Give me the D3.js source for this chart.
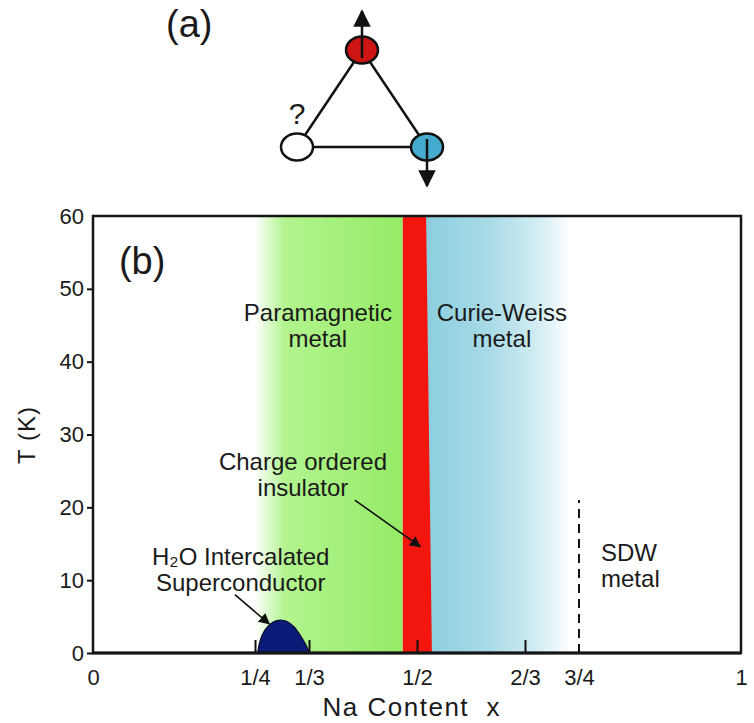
<!DOCTYPE html>
<html>
<head>
<meta charset="utf-8">
<script src="https://cdn.jsdelivr.net/npm/d3@7"></script>
<style>
body { margin: 0; background: #fff; }
text { font-family: "Liberation Sans", Arial, sans-serif; fill: #1a1a1a; }
</style>
</head>
<body>
<script>
// axis ticks
var xTicks = [0, 1/4, 1/3, 1/2, 2/3, 3/4, 1];
var xTickLabels = ["0", "1/4", "1/3", "1/2", "2/3", "3/4", "1"];
var yTicks = [0, 10, 20, 30, 40, 50, 60];

// H2O intercalated superconducting dome
var domeX = [0.254, 0.258, 0.265, 0.274, 0.284, 0.292, 0.30, 0.31, 0.32, 0.328, 0.334];
var domeT = [0, 1.7, 3.1, 4.0, 4.45, 4.5, 4.3, 3.6, 2.4, 1.2, 0];

// charge ordered insulator band, edges at T = 0 and T = 60
var coT = [0, 60];
var coLeft = [0.478, 0.478];
var coRight = [0.523, 0.514];

// shaded metal regions
var paraRange = [0.25, 0.478];
var cwRange = [0.512, 0.737];

// SDW boundary (dashed)
var sdwX = [0.75, 0.75];
var sdwT = [0, 21];

// text labels: x, T of first baseline
var labels = [
  {lines: ["Paramagnetic", "metal"], x: 0.347, T: 45.6, anchor: "middle"},
  {lines: ["Curie-Weiss", "metal"], x: 0.631, T: 45.6, anchor: "middle"},
  {lines: ["Charge ordered", "insulator"], x: 0.324, T: 25.1, anchor: "middle"},
  {lines: ["H\u2082O Intercalated", "Superconductor"], x: 0.228, T: 12.1, anchor: "middle"},
  {lines: ["SDW", "metal"], x: 0.784, T: 12.6, anchor: "start"}
];
var arrows = [
  {x1: 0.404, T1: 21.0, x2: 0.505, T2: 14.6},
  {x1: 0.219, T1: 8.0, x2: 0.272, T2: 4.0}
];

var width = 754, height = 723;
var margin = {top: 216, right: 13, bottom: 70, left: 93};
var w = width - margin.left - margin.right,
    h = height - margin.top - margin.bottom;

var svg = d3.select("body").append("svg")
    .attr("width", width)
    .attr("height", height);

var defs = svg.append("defs");
defs.append("marker")
    .attr("id", "head")
    .attr("viewBox", "0 0 10 10")
    .attr("refX", 9).attr("refY", 5)
    .attr("markerWidth", 7).attr("markerHeight", 7)
    .attr("markerUnits", "strokeWidth")
    .attr("orient", "auto")
  .append("path")
    .attr("d", "M0,0L10,5L0,10z")
    .attr("fill", "#111");

var x = d3.scaleLinear().domain([0, 1]).range([0, w]);
var y = d3.scaleLinear().domain([0, 60]).range([h, 0]);

// gradients live in the plot group's user space
var gPara = defs.append("linearGradient").attr("id", "para")
    .attr("gradientUnits", "userSpaceOnUse")
    .attr("x1", x(paraRange[0])).attr("x2", x(paraRange[1]))
    .attr("y1", 0).attr("y2", 0);
gPara.append("stop").attr("offset", 0).attr("stop-color", "#ffffff");
gPara.append("stop").attr("offset", 0.2).attr("stop-color", "#b2f48f");
gPara.append("stop").attr("offset", 1).attr("stop-color", "#95eb66");

var gCW = defs.append("linearGradient").attr("id", "cw")
    .attr("gradientUnits", "userSpaceOnUse")
    .attr("x1", x(cwRange[0])).attr("x2", x(cwRange[1]))
    .attr("y1", 0).attr("y2", 0);
gCW.append("stop").attr("offset", 0).attr("stop-color", "#8bcede");
gCW.append("stop").attr("offset", 0.45).attr("stop-color", "#a9dbe7");
gCW.append("stop").attr("offset", 0.8).attr("stop-color", "#d6eef4");
gCW.append("stop").attr("offset", 1).attr("stop-color", "#ffffff");

var g = svg.append("g")
    .attr("transform", "translate(" + margin.left + "," + margin.top + ")");

// shaded regions
g.append("rect")
    .attr("x", x(paraRange[0])).attr("y", y(60))
    .attr("width", x(paraRange[1]) - x(paraRange[0]))
    .attr("height", y(0) - y(60))
    .attr("fill", "url(#para)");
g.append("rect")
    .attr("x", x(cwRange[0])).attr("y", y(60))
    .attr("width", x(cwRange[1]) - x(cwRange[0]))
    .attr("height", y(0) - y(60))
    .attr("fill", "url(#cw)");

// charge ordered band
var band = coT.map(function(t, i) { return [coLeft[i], coRight[i], t]; });
g.append("path")
    .datum(band)
    .attr("fill", "#f3160f")
    .attr("d", d3.area()
        .y(function(d) { return y(d[2]); })
        .x0(function(d) { return x(d[0]); })
        .x1(function(d) { return x(d[1]); }));

// superconducting dome
var dome = domeX.map(function(d, i) { return [d, domeT[i]]; });
g.append("path")
    .datum(dome)
    .attr("fill", "#0d1b78")
    .attr("stroke", "#050a30")
    .attr("stroke-width", 1.2)
    .attr("d", d3.line().curve(d3.curveCatmullRom)
        .x(function(d) { return x(d[0]); })
        .y(function(d) { return y(d[1]); }));

// SDW dashed line
g.append("line")
    .attr("x1", x(sdwX[0])).attr("x2", x(sdwX[1]))
    .attr("y1", y(sdwT[0])).attr("y2", y(sdwT[1]))
    .attr("stroke", "#111").attr("stroke-width", 2)
    .attr("stroke-dasharray", "9,6");

// x axis, inward ticks
var xAxis = g.append("g")
    .attr("transform", "translate(0," + h + ")")
    .call(d3.axisBottom(x)
        .tickValues(xTicks)
        .tickSize(0)
        .tickPadding(16)
        .tickFormat(function(d, i) { return xTickLabels[i]; }));
xAxis.select(".domain").remove();
xAxis.selectAll("text")
    .style("font-size", "22px")
    .attr("fill", "#1a1a1a");
xAxis.selectAll(".tick").filter(function(d) { return d > 0 && d < 0.7; })
  .append("line")
    .attr("y1", 0).attr("y2", -13)
    .attr("stroke", "#111").attr("stroke-width", 2);

// y axis
var yAxis = g.append("g")
    .call(d3.axisLeft(y)
        .tickValues(yTicks)
        .tickSize(6)
        .tickPadding(3));
yAxis.select(".domain").remove();
yAxis.selectAll("line").attr("stroke", "#111").attr("stroke-width", 2);
yAxis.selectAll(".tick").filter(function(d) { return d == 60; }).select("line").remove();
yAxis.selectAll("text")
    .style("font-size", "22px")
    .attr("fill", "#1a1a1a");

// frame
g.append("rect")
    .attr("x", 0).attr("y", 0)
    .attr("width", w).attr("height", h)
    .attr("fill", "none")
    .attr("stroke", "#151515")
    .attr("stroke-width", 2.5);
g.append("line")
    .attr("x1", 0).attr("x2", w).attr("y1", h).attr("y2", h)
    .attr("stroke", "#151515").attr("stroke-width", 3);

// labels
labels.forEach(function(l) {
    var t = g.append("text")
        .attr("x", x(l.x)).attr("y", y(l.T))
        .attr("text-anchor", l.anchor)
        .style("font-size", "24px");
    l.lines.forEach(function(s, i) {
        t.append("tspan")
            .attr("x", x(l.x))
            .attr("dy", i == 0 ? 0 : 26)
            .text(s);
    });
});

arrows.forEach(function(a) {
    g.append("line")
        .attr("x1", x(a.x1)).attr("y1", y(a.T1))
        .attr("x2", x(a.x2)).attr("y2", y(a.T2))
        .attr("stroke", "#111").attr("stroke-width", 1.6)
        .attr("marker-end", "url(#head)");
});

g.append("text")
    .attr("x", x(0.04)).attr("y", y(52))
    .style("font-size", "38px")
    .text("(b)");

// axis titles
g.append("text")
    .attr("x", x(0.492)).attr("y", h + 63)
    .attr("text-anchor", "middle")
    .style("font-size", "26px")
    .style("letter-spacing", "1.5px")
    .text("Na Content\u00a0\u00a0x");
svg.append("text")
    .attr("transform", "translate(35,435) rotate(-90)")
    .attr("text-anchor", "middle")
    .style("font-size", "24px")
    .style("letter-spacing", "1px")
    .text("T (K)");

// (a) triangle of spins
var sites = [
  {name: "up", u: 0.5, v: 1, fill: "#cf1414"},
  {name: "q", u: 0, v: 0, fill: "#ffffff"},
  {name: "down", u: 1, v: 0, fill: "#45acd0"}
];
var su = d3.scaleLinear().domain([0, 1]).range([297, 427]);
var sv = d3.scaleLinear().domain([0, 1]).range([147, 50]);
var ga = svg.append("g");
ga.append("text")
    .attr("x", 166).attr("y", 37)
    .style("font-size", "38px")
    .text("(a)");
ga.append("path")
    .attr("d", d3.line().x(function(d) { return su(d.u); }).y(function(d) { return sv(d.v); })(sites) + "Z")
    .attr("fill", "none")
    .attr("stroke", "#111")
    .attr("stroke-width", 2.5);
ga.selectAll("ellipse").data(sites).enter().append("ellipse")
    .attr("cx", function(d) { return su(d.u); })
    .attr("cy", function(d) { return sv(d.v); })
    .attr("rx", 16).attr("ry", 13.5)
    .attr("fill", function(d) { return d.fill; })
    .attr("stroke", "#111")
    .attr("stroke-width", 2.5);
ga.append("line")
    .attr("x1", su(0.5)).attr("x2", su(0.5))
    .attr("y1", sv(1) + 8).attr("y2", 11)
    .attr("stroke", "#111").attr("stroke-width", 2.5)
    .attr("marker-end", "url(#head)");
ga.append("line")
    .attr("x1", su(1)).attr("x2", su(1))
    .attr("y1", sv(0) - 8).attr("y2", 186)
    .attr("stroke", "#111").attr("stroke-width", 2.5)
    .attr("marker-end", "url(#head)");
ga.append("text")
    .attr("x", su(0)).attr("y", 124)
    .attr("text-anchor", "middle")
    .style("font-size", "30px")
    .text("?");
</script>
</body>
</html>
